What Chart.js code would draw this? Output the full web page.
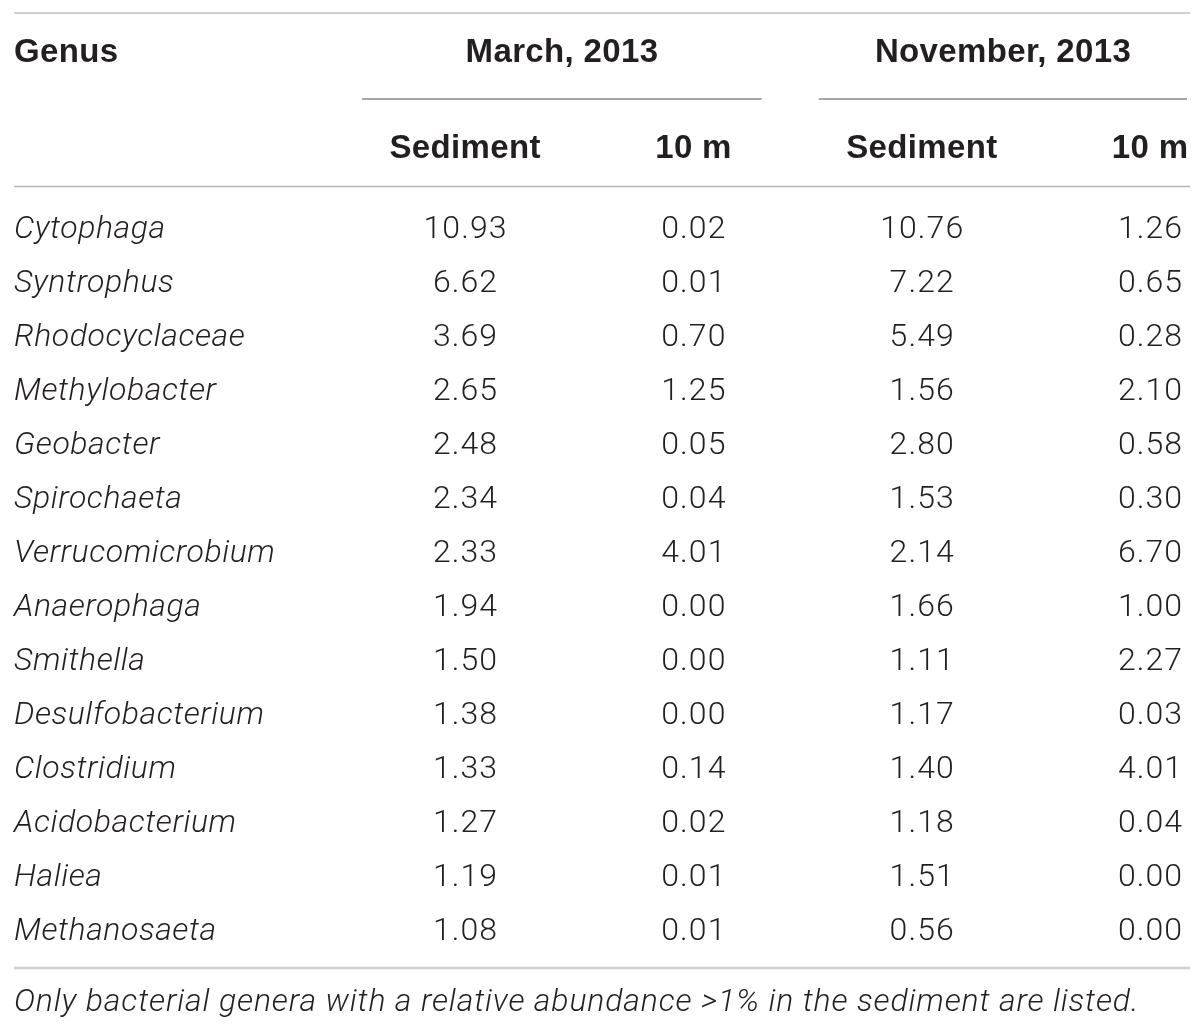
<!DOCTYPE html>
<html>
<head>
<meta charset="utf-8">
<script src="https://cdn.jsdelivr.net/npm/chart.js@4.4.1/dist/chart.umd.min.js"></script>
<style>
    html, body { margin: 0; padding: 0; background: #fff; }
    #wrap { width: 1200px; height: 1031px; position: relative; }
</style>
</head>
<body>
<div id="wrap"><canvas id="table-chart"></canvas></div>
<script>
// table content
const genera = ["Cytophaga", "Syntrophus", "Rhodocyclaceae", "Methylobacter", "Geobacter",
    "Spirochaeta", "Verrucomicrobium", "Anaerophaga", "Smithella", "Desulfobacterium",
    "Clostridium", "Acidobacterium", "Haliea", "Methanosaeta"];
const marchSediment = [10.93, 6.62, 3.69, 2.65, 2.48, 2.34, 2.33, 1.94, 1.50, 1.38, 1.33, 1.27, 1.19, 1.08];
const march10m = [0.02, 0.01, 0.70, 1.25, 0.05, 0.04, 4.01, 0.00, 0.00, 0.00, 0.14, 0.02, 0.01, 0.01];
const novSediment = [10.76, 7.22, 5.49, 1.56, 2.80, 1.53, 2.14, 1.66, 1.11, 1.17, 1.40, 1.18, 1.51, 0.56];
const nov10m = [1.26, 0.65, 0.28, 2.10, 0.58, 0.30, 6.70, 1.00, 2.27, 0.03, 4.01, 0.04, 0.00, 0.00];
const columnHeads = ["Sediment", "10 m", "Sediment", "10 m"];
const groupHeads = ["March, 2013", "November, 2013"];
const firstHead = "Genus";
const footNote = "Only bacterial genera with a relative abundance >1% in the sediment are listed.";

const columns = [marchSediment, march10m, novSediment, nov10m];

const textColor = "#231f20";
const lightFont = "300 32px Roboto, 'Liberation Sans', sans-serif";
const italicFont = "italic 300 32px Roboto, 'Liberation Sans', sans-serif";
const boldFont = "bold 33px 'Liberation Sans', Arial, sans-serif";
const textShift = 3;

function hline(ctx, x1, x2, y, color, w) {
    ctx.save();
    ctx.strokeStyle = color;
    ctx.lineWidth = w;
    ctx.beginPath();
    ctx.moveTo(x1, y);
    ctx.lineTo(x2, y);
    ctx.stroke();
    ctx.restore();
}

// text with letter spacing, centred without the trailing space
function spacedText(ctx, txt, x, y, spacing, align) {
    ctx.letterSpacing = spacing + "px";
    let w = ctx.measureText(txt).width - spacing;
    let left = x;
    if (align === "center") left = x - w / 2;
    ctx.textAlign = "left";
    ctx.fillText(txt, left, y + textShift);
}

// draws the cells at the points placed by the scales
const tablePlugin = {
    id: "tablePlugin",
    afterDatasetsDraw(chart) {
        const ctx = chart.ctx;
        const xs = chart.scales.x;
        const ys = chart.scales.y;
        const area = chart.chartArea;
        const leftEdge = 14;
        const rightEdge = 1187;

        ctx.save();
        ctx.fillStyle = textColor;
        ctx.textBaseline = "middle";

        // values
        ctx.font = lightFont;
        chart.data.datasets.forEach((ds, di) => {
            const meta = chart.getDatasetMeta(di);
            meta.data.forEach((pt, i) => {
                spacedText(ctx, ds.values[i].toFixed(2), pt.x, pt.y, 1.1, "center");
            });
        });

        // genus names
        ctx.font = italicFont;
        genera.forEach((g, i) => {
            spacedText(ctx, g, leftEdge, ys.getPixelForValue(i), 0.55, "left");
        });

        // headers
        const rowStep = ys.getPixelForValue(1) - ys.getPixelForValue(0);
        const subY = area.top - rowStep;
        const groupY = 50;
        ctx.font = boldFont;
        spacedText(ctx, firstHead, leftEdge, groupY, 0.35, "left");
        columnHeads.forEach((h, c) => {
            spacedText(ctx, h, xs.getPixelForValue(c), subY, 0.35, "center");
        });

        // group headers with underline
        const spans = [
            [xs.getPixelForValue(0) - 103, xs.getPixelForValue(2) - 160],
            [xs.getPixelForValue(2) - 103, rightEdge]
        ];
        groupHeads.forEach((h, gi) => {
            const s = spans[gi];
            spacedText(ctx, h, (s[0] + s[1]) / 2, groupY, 0.35, "center");
            hline(ctx, s[0], s[1], 99, "#8a8a8a", 1.5);
        });

        // rules
        hline(ctx, leftEdge, rightEdge + 3, 13, "#cfcfcf", 2);
        hline(ctx, leftEdge, rightEdge + 3, 186.5, "#b5b5b5", 1.5);
        hline(ctx, leftEdge, rightEdge + 3, 968, "#cfcfcf", 2.5);

        // footnote
        ctx.font = italicFont;
        spacedText(ctx, footNote, leftEdge, 1000, 0.85, "left");
        ctx.restore();
    }
};

const datasets = columns.map((vals, c) => ({
    label: columnHeads[c],
    values: vals,
    data: vals.map((v, i) => ({ x: c, y: i })),
    pointRadius: 0,
    showLine: false
}));

new Chart(document.getElementById("table-chart"), {
    type: "scatter",
    data: { datasets: datasets },
    options: {
        responsive: true,
        maintainAspectRatio: false,
        animation: false,
        events: [],
        layout: { padding: { left: 465, right: 50, top: 200, bottom: 75 } },
        plugins: { legend: { display: false }, tooltip: { enabled: false } },
        scales: {
            x: { type: "linear", min: 0, max: 3, display: false },
            y: { type: "linear", min: -0.5, max: genera.length - 0.5, reverse: true, display: false }
        }
    },
    plugins: [tablePlugin]
});
</script>
</body>
</html>
